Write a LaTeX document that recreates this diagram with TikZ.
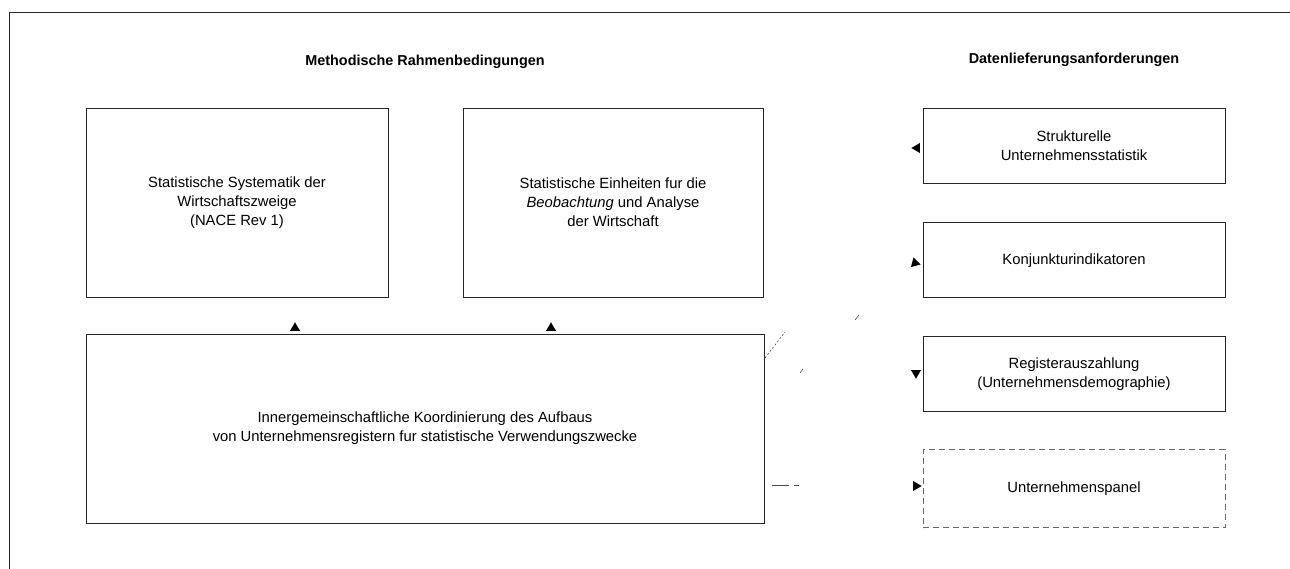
\documentclass[tikz,border=0pt]{standalone}
\usepackage{fontspec}
\setmainfont{Liberation Sans}
\usepackage{tikz}
\usetikzlibrary{shapes.geometric,positioning}
\tikzset{
    every node/.style={font=\fontsize{14.8}{19}\selectfont},
    kasten/.style={draw=black!85,line width=0.9pt,align=center,inner sep=0pt},
    rechts/.style={kasten,minimum width=302pt,minimum height=75pt},
    kopf/.style={font=\fontsize{14.4}{17}\selectfont\bfseries},
    spitze/.style={regular polygon,regular polygon sides=3,fill=black,inner sep=0pt,minimum size=11.5pt},
    rest/.style={draw=black!70,line width=0.6pt}
}

\begin{document}
\begin{tikzpicture}[x=1pt,y=-1pt]
            \useasboundingbox (0,0) rectangle (1290,569);
            % Frame
            \draw[line width=1pt,black!85] (9,569) -- (9,13) -- (1290,13);

            % Headings
            \node[kopf] (kopfmethodik) at (425,62) {Methodische Rahmenbedingungen};
            \node[kopf] (kopfdaten) at (1074,60) {Datenlieferungsanforderungen};

            % Left boxes
            \node[kasten,minimum width=302pt,minimum height=189pt] (systematik) at (237,202.5)
                {Statistische Systematik der\\Wirtschaftszweige\\(NACE Rev 1)};
            \node[kasten,minimum width=300pt,minimum height=189pt] (einheiten) at (613,202.5)
                {Statistische Einheiten fur die\\\textit{Beobachtung} und Analyse\\der Wirtschaft};
            \node[kasten,minimum width=678pt,minimum height=189pt] (koordinierung) at (425,428.5)
                {Innergemeinschaftliche Koordinierung des Aufbaus\\von Unternehmensregistern fur statistische Verwendungszwecke};

            % Right boxes
            \node[rechts] (strukturstat) at (1074,145.5) {Strukturelle\\Unternehmensstatistik};
            \node[rechts,below=39pt of strukturstat] (konjunktur) {Konjunkturindikatoren};
            \node[rechts,below=38pt of konjunktur] (register) {Registerauszahlung\\(Unternehmensdemographie)};
            \node[rechts,below=37pt of register,draw=black!60,dash pattern=on 6pt off 4pt,minimum height=78pt] (panel) {Unternehmenspanel};

            % Arrow heads
            \node[spitze] (spitzeA) at (295,328) {};
            \node[spitze] (spitzeB) at (551,328) {};
            \node[spitze,shape border rotate=90] (spitzeS) at (917,148) {};
            \node[spitze,shape border rotate=135] (spitzeK) at (915,263) {};
            \node[spitze,shape border rotate=180] (spitzeR) at (916,373) {};
            \node[spitze,shape border rotate=-90] (spitzeP) at (916,486) {};

            % Faded line pieces
            \draw[rest,dash pattern=on 2pt off 2pt] (765,358) -- (785,332);
            \draw[rest] (855,320) -- (859,315);
            \draw[rest] (800,373) -- (803,369);
            \draw[rest] (772,485) -- (789,485) (794,485) -- (799,485);
        \end{tikzpicture}
\end{document}
